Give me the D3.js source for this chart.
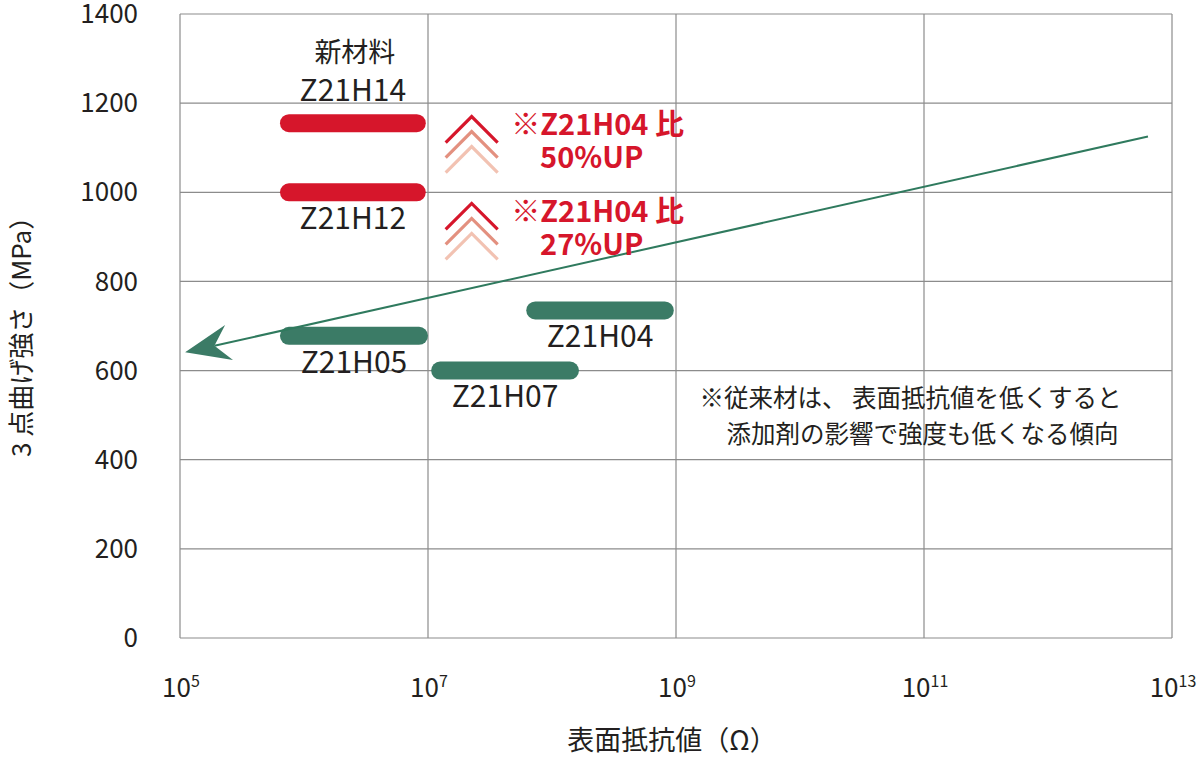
<!DOCTYPE html>
<html>
<head>
<meta charset="utf-8">
<script src="https://cdn.jsdelivr.net/npm/d3@7"></script>
<style>
  html, body { margin: 0; padding: 0; background: #fff; }
  svg text { font-family: "Noto Sans CJK JP", "Noto Sans", sans-serif; fill: #231f20; }
</style>
</head>
<body>
<div id="svg-container"></div>
<script>
////////////////////////////////////////////////////////////////////
////////////////////////////  Data  ////////////////////////////////

const xTicks = [1e5, 1e7, 1e9, 1e11, 1e13];
const xTickExp = ["5", "7", "9", "11", "13"];
const yTicks = [0, 200, 400, 600, 800, 1000, 1200, 1400];

// material bars: resistance range (low, high) and bending strength
const barNames = ["Z21H14", "Z21H12", "Z21H05", "Z21H07", "Z21H04"];
const barLow = [6.4e5, 6.4e5, 6.4e5, 1.06e7, 6.2e7];
const barHigh = [9.6e6, 9.6e6, 1.0e7, 1.65e8, 9.6e8];
const barStrength = [1155, 1000, 678, 600, 735];
const barGroup = ["new", "new", "old", "old", "old"];
const labelSide = ["above", "below", "below", "below", "below"];

// trend arrow for conventional material (from, to)
const trendX = [6.4e12, 1.1e5];
const trendY = [1125, 641];

// improvement notes
const upX = [2.25e7, 2.25e7];
const upY = [1170, 975];
const upLine1 = ["※Z21H04 比", "※Z21H04 比"];
const upLine2 = ["50%UP", "27%UP"];

const noteX = [1.55e9, 2.55e9];
const noteY = [538, 458];
const noteLines = ["※従来材は、 表面抵抗値を低くすると", "添加剤の影響で強度も低くなる傾向"];

////////////////////////////////////////////////////////////////////
////////////////////////////  Init  ///////////////////////////////

const width = 1200;
const height = 778;
const margin = { top: 14, right: 28, bottom: 140, left: 180 };

const svg = d3.select("#svg-container").append("svg")
  .attr("width", width).attr("height", height);

const xScale = d3.scaleLog().domain([1e5, 1e13]).range([margin.left, width - margin.right]);
const yScale = d3.scaleLinear().domain([0, 1400]).range([height - margin.bottom, margin.top]);

const colors = { new: "#d6162b", old: "#3b7b66" };
const gridColor = "#8c8c8c";

// grid
svg.append("g").selectAll("line").data(yTicks).join("line")
  .attr("x1", xScale.range()[0]).attr("x2", xScale.range()[1])
  .attr("y1", d => yScale(d)).attr("y2", d => yScale(d))
  .attr("stroke", gridColor).attr("stroke-width", 1.2);

svg.append("g").selectAll("line").data(xTicks).join("line")
  .attr("x1", d => xScale(d)).attr("x2", d => xScale(d))
  .attr("y1", yScale.range()[0]).attr("y2", yScale.range()[1])
  .attr("stroke", gridColor).attr("stroke-width", 1.2);

// y tick labels
svg.append("g").selectAll("text").data(yTicks).join("text")
  .attr("x", margin.left - 42)
  .attr("y", d => yScale(d))
  .attr("dy", "0.35em")
  .attr("text-anchor", "end")
  .attr("font-size", 26)
  .text(d => d);

// x tick labels with exponent
const xt = svg.append("g").selectAll("text").data(xTicks).join("text")
  .attr("x", (d, i) => xScale(d) + 1)
  .attr("y", height - margin.bottom + 59)
  .attr("text-anchor", "middle")
  .attr("font-size", 26);
xt.append("tspan").text("10");
xt.append("tspan").attr("font-size", 16).attr("dy", -10).text((d, i) => xTickExp[i]);

// axis titles
svg.append("text")
  .attr("x", (xScale.range()[0] + xScale.range()[1]) / 2 - 4)
  .attr("y", height - 28)
  .attr("text-anchor", "middle")
  .attr("font-size", 27)
  .text("表面抵抗値（Ω）");

svg.append("text")
  .attr("transform", `translate(31,${yScale(690)}) rotate(-90)`)
  .attr("text-anchor", "middle")
  .attr("font-size", 26)
  .text("3 点曲げ強さ（MPa）");

////////////////////////////////////////////////////////////////////
////////////////////////////  Marks  ///////////////////////////////

const barH = 18;
svg.append("g").selectAll("rect").data(barNames).join("rect")
  .attr("x", (d, i) => xScale(barLow[i]))
  .attr("width", (d, i) => xScale(barHigh[i]) - xScale(barLow[i]))
  .attr("y", (d, i) => yScale(barStrength[i]) - barH / 2)
  .attr("height", barH)
  .attr("rx", barH / 2)
  .attr("fill", (d, i) => colors[barGroup[i]]);

svg.append("g").selectAll("text").data(barNames).join("text")
  .attr("x", (d, i) => (xScale(barLow[i]) + xScale(barHigh[i])) / 2)
  .attr("y", (d, i) => yScale(barStrength[i]) + (labelSide[i] === "above" ? -33 : 26))
  .attr("dy", "0.36em")
  .attr("text-anchor", "middle")
  .attr("font-size", 30)
  .text(d => d);

// "新材料" heading over the new material
svg.append("text")
  .attr("x", (xScale(barLow[0]) + xScale(barHigh[0])) / 2 + 2)
  .attr("y", yScale(barStrength[0]) - 71)
  .attr("dy", "0.36em")
  .attr("text-anchor", "middle")
  .attr("font-size", 27)
  .text("新材料");

// trend arrow
const p0 = [xScale(trendX[0]), yScale(trendY[0])];
const p1 = [xScale(trendX[1]), yScale(trendY[1])];
const len = Math.hypot(p0[0] - p1[0], p0[1] - p1[1]);
const ux = (p0[0] - p1[0]) / len, uy = (p0[1] - p1[1]) / len; // back from tip
const vx = -uy, vy = ux;
const pt = (a, b) => [p1[0] + ux * a + vx * b, p1[1] + uy * a + vy * b];

svg.append("line")
  .attr("x1", p0[0]).attr("y1", p0[1])
  .attr("x2", pt(30, 0)[0]).attr("y2", pt(30, 0)[1])
  .attr("stroke", "#2f7a5e").attr("stroke-width", 2);

svg.append("path")
  .attr("d", d3.line()([pt(0, 0), pt(45, -18), pt(30, 0), pt(45, 18)]) + "Z")
  .attr("fill", "#3b7b66");

// improvement chevrons + text
const chevColors = ["#d6162b", "#e3907f", "#f2c2b2"];
upX.forEach((xv, i) => {
  const cx = xScale(xv), cy = yScale(upY[i]);
  const g = svg.append("g");
  g.selectAll("path").data(chevColors).join("path")
    .attr("d", (c, k) => d3.line()([[cx - 26, cy + 26 + k * 15], [cx, cy + k * 15], [cx + 26, cy + 26 + k * 15]]))
    .attr("fill", "none")
    .attr("stroke", c => c)
    .attr("stroke-width", 3.2);
  g.append("text")
    .attr("x", cx + 126).attr("y", cy + 8)
    .attr("dy", "0.36em")
    .attr("text-anchor", "middle")
    .attr("font-size", 29).attr("font-weight", "bold")
    .style("fill", "#d6162b")
    .text(upLine1[i]);
  g.append("text")
    .attr("x", cx + 120).attr("y", cy + 41)
    .attr("dy", "0.36em")
    .attr("text-anchor", "middle")
    .attr("font-size", 29).attr("font-weight", "bold")
    .style("fill", "#d6162b")
    .text(upLine2[i]);
});

// note on conventional material
svg.append("g").selectAll("text").data(noteLines).join("text")
  .attr("x", (d, i) => xScale(noteX[i]))
  .attr("y", (d, i) => yScale(noteY[i]))
  .attr("dy", "0.36em")
  .attr("font-size", 24.5)
  .text(d => d);
</script>
</body>
</html>
